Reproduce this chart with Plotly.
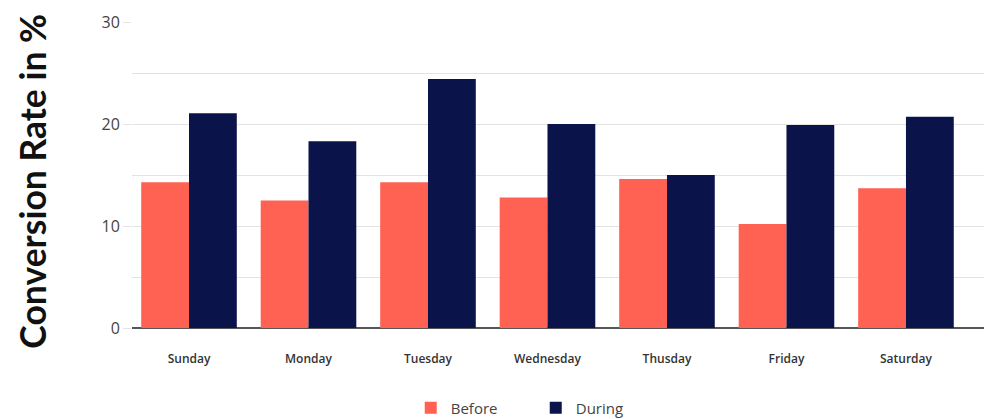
import plotly.graph_objects as go

days = ["Sunday", "Monday", "Tuesday", "Wednesday", "Thusday", "Friday", "Saturday"]
before = [14.3, 12.5, 14.3, 12.8, 14.6, 10.2, 13.7]
during = [21.05, 18.3, 24.4, 20.0, 15.0, 19.9, 20.7]
y_ticks = [0, 10, 20, 30]

fig = go.Figure()
fig.add_trace(go.Bar(x=days, y=before, name="Before", marker=dict(color="#FF6153", line=dict(width=0))))
fig.add_trace(go.Bar(x=days, y=during, name="During", marker=dict(color="#0B144A", line=dict(width=0))))

fig.update_layout(
    width=985, height=419,
    margin=dict(l=132, r=1, t=22, b=91, autoexpand=False),
    paper_bgcolor="white", plot_bgcolor="white",
    barmode="group", bargap=0.2, bargroupgap=0,
    font=dict(family="Open Sans", color="#333333"),
    showlegend=True,
    legend=dict(orientation="h", xref="container", yref="container",
                x=0.417, xanchor="left", y=0.0263, yanchor="middle",
                font=dict(size=15, color="#444444"), traceorder="normal",
                entrywidth=80),
    xaxis=dict(range=[-0.477, 6.653], showgrid=False, tickfont=dict(size=12, color="#333333", weight=600),
               showline=False, ticks="", ticklabelstandoff=22),
    yaxis=dict(range=[0, 30], tickvals=y_ticks,
               showgrid=True, gridcolor="#E3E3E3", gridwidth=1,
               tickfont=dict(size=16, color="#444444"),
               ticks="outside", ticklen=8, tickcolor="#E3E3E3",
               zeroline=True, zerolinecolor="#555555", zerolinewidth=2,
               minor=dict(tickvals=[5, 15, 25], showgrid=True, gridcolor="#E3E3E3", gridwidth=1)),
    annotations=[dict(text="<b>Conversion Rate in %</b>", textangle=-90, xref="paper", yref="paper",
                      x=-0.1162, y=0.4815, xanchor="center", yanchor="middle", showarrow=False,
                      font=dict(size=35.5, color="#111111", family="Lato"))],
)

fig.write_html("out.html", config={"displayModeBar": False},
               post_script="document.body.style.margin='0';")
